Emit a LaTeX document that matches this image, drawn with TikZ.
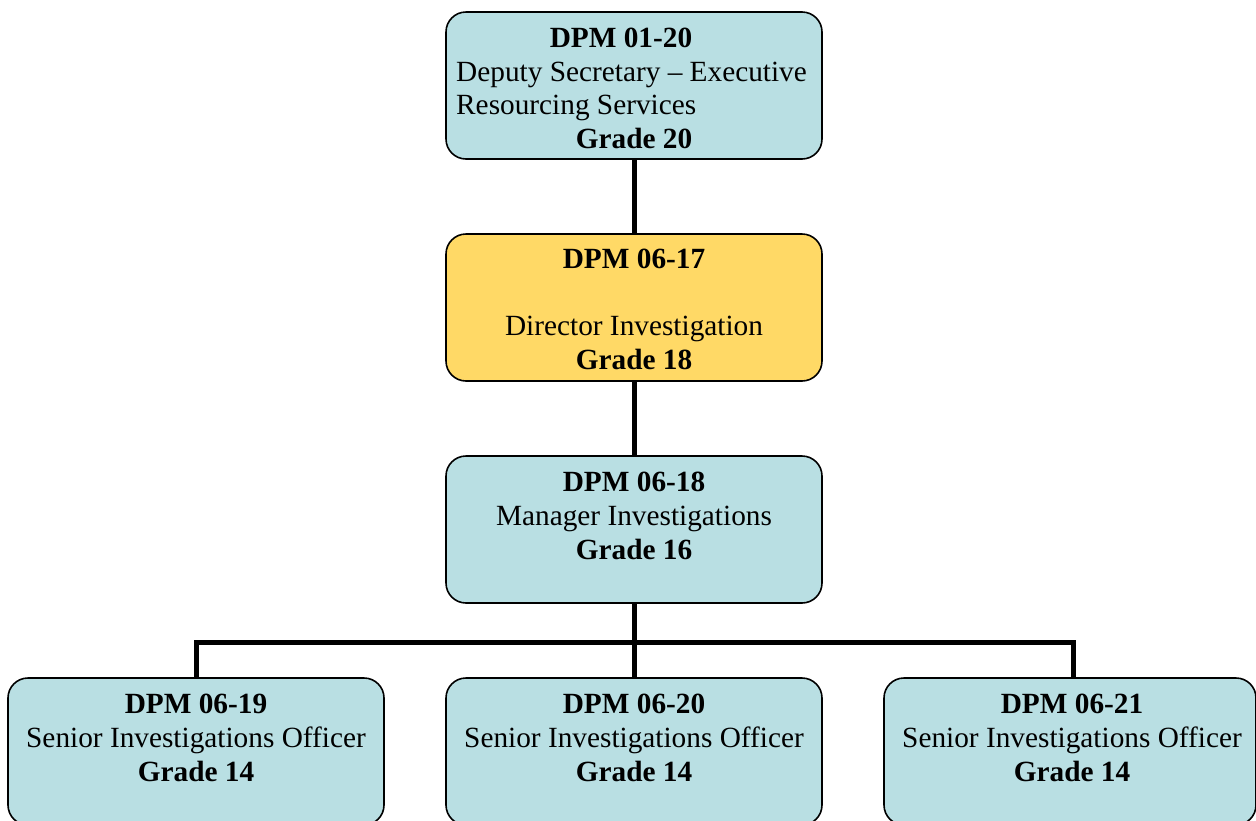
\documentclass[tikz,border=0pt]{standalone}
\usepackage{fontspec}
\setmainfont{Liberation Serif}
\definecolor{boxblue}{RGB}{185,223,227}
\definecolor{boxgold}{RGB}{255,217,102}
\begin{document}
\begin{tikzpicture}[x=1pt,y=-1pt,
  orgbox/.style={draw=black,line width=1.6pt,rounded corners=20pt,fill=boxblue,minimum width=376pt,minimum height=147pt,inner sep=0pt},
  txt/.style={inner sep=0pt,font=\fontsize{29.3}{33.5}\selectfont},
  btxt/.style={txt,font=\fontsize{29.3}{33.5}\selectfont\bfseries},
  link/.style={line width=5pt,draw=black}]
\useasboundingbox (0,0) rectangle (1256,820);
% boxes
\node[orgbox] (top) at (634,85.5) {};
\node[orgbox,fill=boxgold] (dir) at (634,307.5) {};
\node[orgbox] (mgr) at (634,529.5) {};
\node[orgbox] (s1) at (196,751.5) {};
\node[orgbox] (s2) at (634,751.5) {};
\node[orgbox,minimum width=372pt] (s3) at (1070,751.5) {};
% connectors
\coordinate (bar) at (634,642);
\draw[link] (top.south) -- (dir.north);
\draw[link] (dir.south) -- (mgr.north);
\draw[link] (mgr.south) -- (s2.north);
\draw[link] (s1.north) |- (bar) -| ([xshift=3pt]s3.north);
% texts
\node[btxt,anchor=base] (t1) at (621,47) {DPM 01-20};
\node[txt,anchor=base west] (t2) at (456,81) {Deputy Secretary – Executive};
\node[txt,anchor=base west] (t3) at (456,114) {Resourcing Services};
\node[btxt,anchor=base] (t4) at (634,148) {Grade 20};
\node[btxt,anchor=base] (d1) at (634,268) {DPM 06-17};
\node[txt,anchor=base] (d2) at (634,335) {Director Investigation};
\node[btxt,anchor=base] (d3) at (634,369) {Grade 18};
\node[btxt,anchor=base] (m1) at (634,491) {DPM 06-18};
\node[txt,anchor=base] (m2) at (634,525) {Manager Investigations};
\node[btxt,anchor=base] (m3) at (634,559) {Grade 16};
\node[btxt,anchor=base] (a1) at (196,713) {DPM 06-19};
\node[txt,anchor=base] (a2) at (196,747) {Senior Investigations Officer};
\node[btxt,anchor=base] (a3) at (196,781) {Grade 14};
\node[btxt,anchor=base] (b1) at (634,713) {DPM 06-20};
\node[txt,anchor=base] (b2) at (634,747) {Senior Investigations Officer};
\node[btxt,anchor=base] (b3) at (634,781) {Grade 14};
\node[btxt,anchor=base] (c1) at (1072,713) {DPM 06-21};
\node[txt,anchor=base] (c2) at (1072,747) {Senior Investigations Officer};
\node[btxt,anchor=base] (c3) at (1072,781) {Grade 14};
\end{tikzpicture}
\end{document}
